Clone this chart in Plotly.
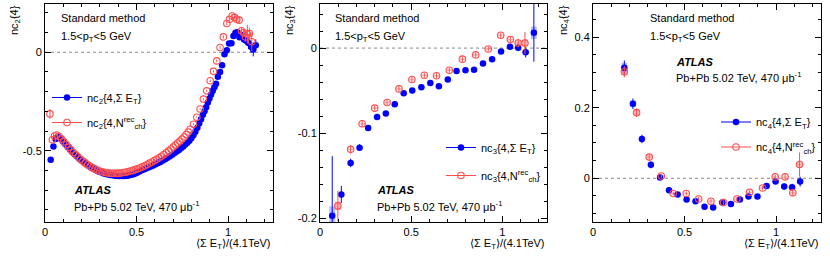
import plotly.graph_objects as go

# ---------------- data ----------------
# Panel 1: nc2{4}
b1_x = [0.031,0.046,0.058,0.071,0.084,0.097,0.110,0.123,0.136,0.149,
        0.162,0.175,0.188,0.201,0.214,0.227,0.240,0.253,0.266,0.279,
        0.292,0.305,0.318,0.331,0.344,0.357,0.370,0.383,0.396,0.409,
        0.422,0.435,0.448,0.461,0.474,0.487,0.500,0.513,0.526,0.539,
        0.552,0.565,0.578,0.591,0.604,0.617,0.630,0.643,0.656,0.669,
        0.682,0.695,0.707,0.719,0.731,0.743,0.755,0.766,0.777,0.788,
        0.799,0.810,0.821,0.832,0.842,0.852,0.862,0.871,0.880,0.889,
        0.898,0.907,0.916,0.925,0.934,0.944,0.956,0.967,0.980,0.993,
        1.005,1.018,1.029,1.040,1.051,1.062,1.075,1.087,1.098,1.111,
        1.126,1.137,1.151]
b1_y = [-0.546,-0.478,-0.440,-0.429,-0.438,-0.452,-0.466,-0.480,-0.493,-0.506,
        -0.518,-0.530,-0.541,-0.551,-0.561,-0.570,-0.578,-0.586,-0.593,-0.599,
        -0.605,-0.610,-0.614,-0.618,-0.621,-0.623,-0.625,-0.627,-0.628,-0.628,
        -0.628,-0.628,-0.627,-0.625,-0.622,-0.618,-0.613,-0.607,-0.601,-0.595,
        -0.590,-0.585,-0.580,-0.575,-0.569,-0.563,-0.557,-0.550,-0.543,-0.536,
        -0.528,-0.520,-0.512,-0.504,-0.496,-0.487,-0.478,-0.469,-0.459,-0.449,
        -0.437,-0.422,-0.404,-0.383,-0.362,-0.340,-0.318,-0.299,-0.279,-0.255,
        -0.235,-0.215,-0.195,-0.178,-0.160,-0.124,-0.100,-0.066,-0.010,0.010,
        0.044,0.046,0.082,0.099,0.101,0.076,0.087,0.065,0.058,0.047,
        0.027,0.014,0.036]
b1_err = [0.006,0.005,0.004,0.004,0.004,0.004,0.004,0.004,0.004,0.004,
          0.004,0.004,0.004,0.004,0.004,0.004,0.004,0.004,0.004,0.004,
          0.004,0.004,0.004,0.004,0.004,0.004,0.004,0.004,0.004,0.004,
          0.004,0.004,0.004,0.004,0.004,0.004,0.004,0.004,0.004,0.004,
          0.004,0.004,0.004,0.004,0.004,0.004,0.004,0.004,0.004,0.004,
          0.004,0.004,0.004,0.004,0.004,0.004,0.004,0.004,0.004,0.004,
          0.004,0.004,0.004,0.004,0.004,0.004,0.005,0.005,0.005,0.005,
          0.005,0.005,0.005,0.006,0.006,0.006,0.006,0.007,0.007,0.008,
          0.008,0.009,0.010,0.010,0.012,0.012,0.014,0.016,0.020,0.030,
          0.030,0.035,0.030]

r1_x = [0.027,0.040,0.052,0.064,0.077,0.090,0.103,0.116,0.129,0.142,
        0.155,0.168,0.181,0.194,0.207,0.220,0.233,0.246,0.259,0.272,
        0.285,0.298,0.311,0.324,0.337,0.350,0.363,0.376,0.389,0.402,
        0.415,0.428,0.441,0.454,0.467,0.480,0.493,0.506,0.519,0.532,
        0.545,0.558,0.571,0.584,0.597,0.610,0.623,0.636,0.649,0.662,
        0.675,0.688,0.700,0.712,0.724,0.736,0.748,0.760,0.771,0.782,
        0.793,0.811,0.829,0.847,0.865,0.883,0.902,0.920,0.938,0.956,
        0.974,0.993,1.007,1.022,1.035,1.047,1.060,1.073,1.084,1.095,
        1.105,1.116,1.129]
r1_y = [-0.313,-0.444,-0.425,-0.420,-0.428,-0.441,-0.455,-0.469,-0.483,-0.496,
        -0.509,-0.521,-0.532,-0.543,-0.553,-0.562,-0.571,-0.579,-0.586,-0.592,
        -0.598,-0.603,-0.607,-0.610,-0.612,-0.614,-0.615,-0.615,-0.615,-0.614,
        -0.613,-0.611,-0.609,-0.606,-0.603,-0.600,-0.596,-0.592,-0.587,-0.582,
        -0.576,-0.570,-0.563,-0.557,-0.550,-0.543,-0.536,-0.528,-0.519,-0.510,
        -0.501,-0.491,-0.481,-0.471,-0.461,-0.452,-0.441,-0.430,-0.418,-0.405,
        -0.391,-0.366,-0.330,-0.288,-0.238,-0.196,-0.145,-0.097,-0.044,0.024,
        0.078,0.146,0.167,0.184,0.177,0.167,0.163,0.109,0.099,0.078,
        0.092,0.095,0.053]
r1_err = [0.025,0.006,0.005,0.004,0.004,0.004,0.004,0.004,0.004,0.004,
          0.004,0.004,0.004,0.004,0.004,0.004,0.004,0.004,0.004,0.004,
          0.004,0.004,0.004,0.004,0.004,0.004,0.004,0.004,0.004,0.004,
          0.004,0.004,0.004,0.004,0.004,0.004,0.004,0.004,0.004,0.004,
          0.004,0.004,0.004,0.004,0.004,0.004,0.004,0.004,0.004,0.004,
          0.004,0.004,0.004,0.004,0.004,0.004,0.004,0.004,0.004,0.005,
          0.005,0.005,0.005,0.005,0.006,0.006,0.006,0.006,0.007,0.007,
          0.008,0.008,0.009,0.010,0.010,0.012,0.014,0.016,0.020,0.025,
          0.047,0.030,0.047]

# Panel 2: nc3{4}
b2_x = [0.067,0.117,0.168,0.217,0.264,0.313,0.361,0.410,0.459,0.506,0.556,0.605,
        0.652,0.701,0.749,0.798,0.845,0.894,0.944,0.993,1.042,1.087,1.128,1.173]
b2_y = [-0.197,-0.172,-0.135,-0.117,-0.094,-0.081,-0.077,-0.066,-0.053,-0.050,-0.046,-0.041,
        -0.045,-0.037,-0.027,-0.026,-0.0255,-0.018,-0.013,-0.004,0.0016,0.0004,-0.005,0.018]
b2_err = [0.070,0.010,0.005,0.004,0.003,0.003,0.003,0.003,0.003,0.003,0.003,0.003,
          0.003,0.003,0.003,0.003,0.003,0.003,0.003,0.003,0.003,0.004,0.006,0.034]
b2_sys = [0.011,0.002,0.001,0.001,0.001,0.001,0.001,0.001,0.001,0.001,0.001,0.001,
          0.001,0.001,0.001,0.001,0.001,0.001,0.001,0.001,0.001,0.001,0.002,0.0075]

r2_x = [0.098,0.168,0.231,0.300,0.368,0.433,0.504,0.572,0.639,0.709,0.781,0.854,
        0.923,0.991,1.044,1.087,1.124]
r2_y = [-0.1855,-0.119,-0.089,-0.0706,-0.064,-0.048,-0.037,-0.032,-0.0325,-0.026,-0.013,-0.008,
        -0.001,0.015,0.010,0.006,0.006]
r2_err = [0.018,0.005,0.004,0.003,0.003,0.003,0.003,0.003,0.003,0.003,0.003,0.003,
          0.003,0.003,0.004,0.005,0.013]
r2_sys = [0.005,0.001,0.001,0.001,0.001,0.001,0.001,0.001,0.001,0.001,0.001,0.001,
          0.001,0.001,0.001,0.002,0.004]

# Panel 3: nc4{4}
b3_x = [0.171,0.218,0.267,0.316,0.366,0.415,0.462,0.511,0.560,0.609,0.656,0.706,
        0.753,0.802,0.849,0.898,0.948,0.997,1.044,1.087,1.131]
b3_y = [0.313,0.211,0.1116,0.038,0.002,-0.034,-0.046,-0.060,-0.065,-0.081,-0.083,-0.069,
        -0.073,-0.060,-0.052,-0.052,-0.022,-0.0095,-0.0236,-0.0255,-0.0095]
b3_err = [0.021,0.015,0.012,0.010,0.007,0.006,0.006,0.006,0.006,0.006,0.006,0.006,
          0.006,0.006,0.006,0.006,0.006,0.007,0.009,0.010,0.014]
b3_sys = [0.014,0.009,0.004,0.003,0.002,0.002,0.002,0.002,0.002,0.002,0.002,0.002,
          0.002,0.002,0.002,0.002,0.002,0.002,0.002,0.002,0.003]

r3_x = [0.171,0.238,0.307,0.373,0.438,0.509,0.577,0.644,0.713,0.786,0.855,0.926,
        0.995,1.049,1.091,1.128]
r3_y = [0.302,0.186,0.060,0.0066,-0.043,-0.043,-0.059,-0.065,-0.069,-0.059,-0.040,-0.0275,
        0.0038,0.0038,-0.041,0.039]
r3_err = [0.016,0.012,0.009,0.006,0.006,0.006,0.006,0.006,0.006,0.006,0.006,0.006,
          0.006,0.008,0.010,0.034]
r3_sys = [0.010,0.008,0.004,0.002,0.002,0.002,0.002,0.002,0.002,0.002,0.002,0.002,
          0.002,0.002,0.003,0.006]

# tick labels
x_tickvals = [0, 0.5, 1]
x_ticktext = ["0", "0.5", "1"]
y1_tickvals = [-0.5, 0]
y1_ticktext = ["-0.5", "0"]
y2_tickvals = [-0.2, -0.1, 0]
y2_ticktext = ["-0.2", "-0.1", "0"]
y3_tickvals = [0, 0.2, 0.4]
y3_ticktext = ["0", "0.2", "0.4"]

# ---------------- style ----------------
W, H = 830, 258
FONT = "Liberation Sans, Arial, sans-serif"
BLUE = "#0000ff"
RED = "#ff4d4d"
BLUE_BOX = "rgba(90,110,255,0.45)"
RED_BOX = "rgba(255,90,90,0.45)"

def px(x):
    return x / W

def py(y):
    return 1 - y / H

panels = [
    dict(xd=(45, 273), yr=(-0.862, 0.245), yt=(y1_tickvals, y1_ticktext), ymin=0.1,
         b=(b1_x, b1_y, b1_err, None), r=(r1_x, r1_y, r1_err, None), n="2"),
    dict(xd=(320, 547), yr=(-0.2044, 0.0518), yt=(y2_tickvals, y2_ticktext), ymin=0.02,
         b=(b2_x, b2_y, b2_err, b2_sys), r=(r2_x, r2_y, r2_err, r2_sys), n="3"),
    dict(xd=(593, 821), yr=(-0.124, 0.494), yt=(y3_tickvals, y3_ticktext), ymin=0.05,
         b=(b3_x, b3_y, b3_err, b3_sys), r=(r3_x, r3_y, r3_err, r3_sys), n="4"),
]

fig = go.Figure()
ydom = [py(222), py(4)]
leg_names = ["legend", "legend2", "legend3"]

for i, p in enumerate(panels):
    k = "" if i == 0 else str(i + 1)
    xa, ya = "x" + k, "y" + k
    # systematic boxes
    for (xs, ys, es, ss), boxc in ((p["b"], BLUE_BOX), (p["r"], RED_BOX)):
        if ss is not None:
            fig.add_trace(go.Bar(x=xs, y=[2 * s for s in ss], base=[y - s for y, s in zip(ys, ss)],
                                 width=0.032, marker=dict(color=boxc, line=dict(width=0)),
                                 showlegend=False, xaxis=xa, yaxis=ya, hoverinfo="skip"))
    xs, ys, es, _ = p["b"]
    fig.add_trace(go.Scatter(x=xs, y=ys, mode="markers", xaxis=xa, yaxis=ya, showlegend=False,
                             marker=dict(symbol="circle", size=6.5, color=BLUE),
                             error_y=dict(type="data", array=es, color=BLUE, thickness=1, width=0)))
    xs, ys, es, _ = p["r"]
    fig.add_trace(go.Scatter(x=xs, y=ys, mode="markers", xaxis=xa, yaxis=ya, showlegend=False,
                             marker=dict(symbol="circle-open", size=6.5, color=RED, line=dict(width=1.1)),
                             error_y=dict(type="data", array=es, color=RED, thickness=1, width=0)))
    # legend entries
    n = p["n"]
    fig.add_trace(go.Scatter(x=[None], y=[None], mode="lines+markers", xaxis=xa, yaxis=ya,
                             name="nc<sub>%s</sub>{4,Σ E<sub>T</sub>}" % n, legend=leg_names[i],
                             legendgroup="b%d" % i,
                             line=dict(color=BLUE, width=1), marker=dict(size=6.5, color=BLUE)))
    fig.add_trace(go.Scatter(x=[None], y=[None], mode="lines+markers", xaxis=xa, yaxis=ya,
                             name="nc<sub>%s</sub>{4,N<sup>rec</sup><sub>ch</sub>}" % n, legend=leg_names[i],
                             legendgroup="r%d" % i,
                             line=dict(color=RED, width=1),
                             marker=dict(symbol="circle-open", size=6.5, color=RED, line=dict(width=1.1))))
    common = dict(showline=True, linecolor="black", linewidth=1, mirror="allticks",
                  ticks="inside", ticklen=6, tickcolor="black", tickwidth=1,
                  showgrid=False, zeroline=False, tickfont=dict(family=FONT, size=11, color="black"),
                  tickmode="array", automargin=False)
    fig.update_layout(**{
        "xaxis" + k: dict(domain=[px(p["xd"][0]), px(p["xd"][1])], range=[0, 1.245], anchor=ya,
                          tickvals=x_tickvals, ticktext=x_ticktext,
                          minor=dict(tickmode="linear", tick0=0, dtick=0.1, ticks="inside", ticklen=3,
                                     tickcolor="black"), **common),
        "yaxis" + k: dict(domain=ydom, range=list(p["yr"]), anchor=xa,
                          tickvals=p["yt"][0], ticktext=p["yt"][1],
                          minor=dict(tickmode="linear", tick0=0, dtick=p["ymin"], ticks="inside", ticklen=3,
                                     tickcolor="black"), **common),
    })
    fig.add_shape(type="line", xref=xa + " domain", yref=ya, x0=0, x1=1, y0=0, y1=0,
                  line=dict(color="#888888", width=1, dash="dot"), layer="below")

# annotations
def txt(t, x, y, size=11, xanchor="left", yanchor="middle", angle=0):
    fig.add_annotation(text=t, x=px(x), y=py(y), xref="paper", yref="paper", showarrow=False,
                       xanchor=xanchor, yanchor=yanchor, textangle=angle,
                       font=dict(family=FONT, size=size, color="black"))

for x0 in (59, 333, 648):
    txt("Standard method", x0, 18)
    txt("1.5<p<sub>T</sub><5 GeV", x0, 37)

for (xa_, ya1, ya2) in ((72, 190, 206), (375, 190, 206), (674, 62, 77)):
    txt("<b><i>ATLAS</i></b>", xa_, ya1)
    txt("Pb+Pb 5.02 TeV, 470 μb<sup>-1</sup>", xa_, ya2)

for xr in (273, 547, 821):
    txt("⟨Σ E<sub>T</sub>⟩/(4.1TeV)", xr, 244, xanchor="right")

for xl, n in ((15, "2"), (290, "3"), (564, "4")):
    txt("nc<sub>%s</sub>{4}" % n, xl, 3, xanchor="center", yanchor="top", angle=-90)

legfont = dict(family=FONT, size=11, color="black")
fig.update_layout(
    legend=dict(x=px(47), y=py(83), xanchor="left", yanchor="top", bgcolor="rgba(0,0,0,0)",
                font=legfont, tracegroupgap=6, itemwidth=30),
    legend2=dict(x=px(441), y=py(133), xanchor="left", yanchor="top", bgcolor="rgba(0,0,0,0)",
                 font=legfont, tracegroupgap=9, itemwidth=30),
    legend3=dict(x=px(716), y=py(107.5), xanchor="left", yanchor="top", bgcolor="rgba(0,0,0,0)",
                 font=legfont, tracegroupgap=6, itemwidth=30),
)

fig.update_layout(width=W, height=H, margin=dict(l=0, r=0, t=0, b=0),
                  paper_bgcolor="white", plot_bgcolor="white", barmode="overlay",
                  font=dict(family=FONT, size=11, color="black"))

fig.write_html("out.html", config={"displayModeBar": False},
               post_script="document.body.style.margin='0px';document.body.style.overflow='hidden';")
